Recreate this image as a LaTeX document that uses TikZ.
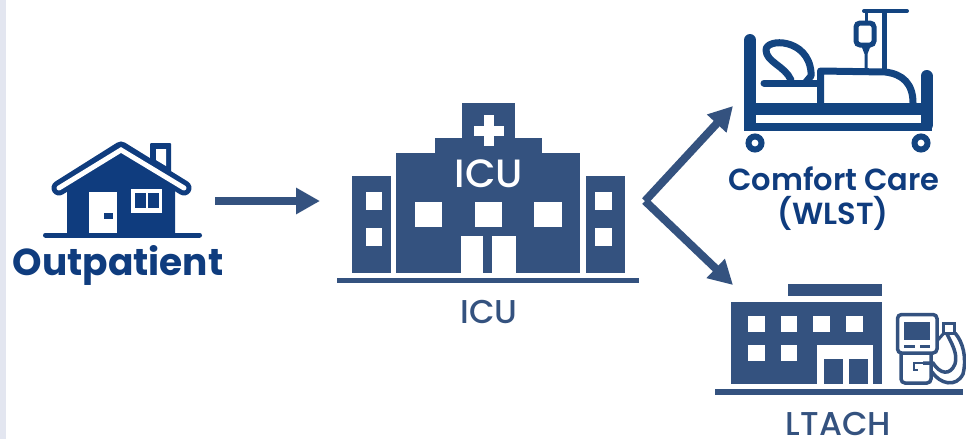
\documentclass[tikz,border=0pt]{standalone}
\usepackage{fontspec}
\usepackage{tikz}
\usetikzlibrary{arrows.meta}
\setmainfont{Poppins Medium}
\newfontfamily\headfont{Poppins}
\newfontfamily\semifont{Poppins SemiBold}
\definecolor{navy}{HTML}{0F3C7E}
\definecolor{bednavy}{HTML}{134480}
\definecolor{slate}{HTML}{34527F}
\definecolor{strip}{HTML}{E3E6F0}
\tikzset{
  iconbox/.style={inner sep=0pt,outer sep=0pt},
  flow/.style={slate,line width=8pt,-{Triangle[length=24pt,width=25pt]},shorten >=0pt},
  plainlabel/.style={slate,font=\fontsize{33}{33}\selectfont,inner sep=0pt},
  bedline/.style={bednavy,line width=7pt,line cap=round,line join=round}
}
\begin{document}
\begin{tikzpicture}[x=1pt,y=-1pt]

\useasboundingbox (0,0) rectangle (966,439);
\fill [white] (0,0) rectangle (966,439);
\fill [strip] (0,0) rectangle (6,439);

\node [iconbox,minimum width=170pt,minimum height=100pt] (home) at (130,201) {};
\node [iconbox,minimum width=325pt,minimum height=180pt] (hospital) at (482.5,201) {};
\node [iconbox,anchor=south west,minimum width=200pt,minimum height=100pt] (bed) at (733,106) {};
\node [iconbox,anchor=north west,minimum width=200pt,minimum height=100pt] (ltach) at (733,285) {};

\fill [navy] (67,190) -- (121,152) -- (175,190) -- (175,235) -- (67,235) -- cycle;
\draw [navy,line width=5pt,line cap=round] (45.5,235) -- (199.5,235);
\fill [navy,rounded corners=1pt] (150,143) rectangle (171,172);
\fill [white] (156,149) -- (166,149) -- (166,166) -- (156,160) -- cycle;
\draw [navy,line width=15pt,line cap=round,line join=round] (59,188) -- (121,149) -- (184,188);
\draw [white,line width=5pt,line cap=round,line join=miter] (59,188) -- (121,150) -- (184,188);
\fill [white] (89,192) rectangle (117,233);
\fill [navy] (104,213) rectangle (113,219);
\fill [white] (131,189) rectangle (162,213);
\fill [navy] (135,193) rectangle (146,208);
\fill [navy] (148,193) rectangle (159,208);
\node [inner sep=0pt,navy,font=\headfont\bfseries\fontsize{37.5}{37.5}\selectfont] (homelabel) at (118,265) {Outpatient};

\fill [slate] (462,103) rectangle (515,138);
\fill [slate] (435,138) rectangle (542,153);
\fill [slate] (396,153) rectangle (580,273);
\fill [slate] (352,176) rectangle (391,273);
\fill [slate] (586,176) rectangle (625,273);
\fill [slate] (337,278) rectangle (639,283);
\fill [white] (484,115) rectangle (494,146);
\fill [white] (474,126) rectangle (504,136);
\fill [white] (366,192) rectangle (382,210);
\fill [white] (366,228) rectangle (382,246);
\fill [white] (595,192) rectangle (612,210);
\fill [white] (595,228) rectangle (612,246);
\fill [white] (415,202) rectangle (442,227);
\fill [white] (475,202) rectangle (502,227);
\fill [white] (534,202) rectangle (562,227);
\fill [white] (461,236) rectangle (483,273);
\fill [white] (492,236) rectangle (516,273);
\node [inner sep=0pt,white,font=\fontsize{39.5}{39.5}\selectfont] (sign) at (489,174) {ICU};
\node [plainlabel] (hospitallabel) at (489,312) {ICU};

\draw [bedline,line width=12pt] (750,40) -- (750,125);
\draw [bedline,line width=12pt] (926.5,76) -- (926.5,125);
\fill [bednavy] (744,103) rectangle (932,115);
\fill [bednavy] (744,123) rectangle (932,131);
\draw [bednavy,line width=6pt] (755,143) circle (6.5pt);
\draw [bednavy,line width=6pt] (921,143) circle (6.5pt);
\draw [bedline] (791,80) .. controls (785,66) and (766,62) .. (766,50) .. controls (766,38) and (808,38) .. (811,72) -- (811,76) -- (806,82);
\draw [bedline,line cap=round] (764,83) -- (820,83);
\draw [bedline,line cap=butt] (820.5,103) -- (820.5,71) -- (885,72) .. controls (903,74) and (913,84) .. (913,103);
\draw [bednavy,line width=5pt] (884.5,72) -- (884.5,11);
\draw [bednavy,line width=4pt,line cap=round] (864,11) -- (907,11);
\draw [bednavy,line width=3pt] (866,11) -- (866,22);
\draw [bednavy,line width=5pt,rounded corners=4pt] (856,23) rectangle (874,45);
\fill [bednavy] (861,45) -- (871,45) -- (867.5,54) -- (867.5,71) -- (864.5,71) -- (864.5,54) -- cycle;
\node [inner sep=0pt,navy,font=\semifont\fontsize{30.5}{30.5}\selectfont] (bedlabel) at (834,179) {Comfort Care};
\node [inner sep=0pt,navy,font=\semifont\fontsize{30.5}{30.5}\selectfont] (bedlabelb) at (833,213) {(WLST)};

\fill [slate] (788,284) rectangle (882,296);
\fill [slate] (731,302) rectangle (882,384);
\fill [slate] (715,389) rectangle (963,395);
\fill [white] (748,316) rectangle (765,332);
\fill [white] (781,316) rectangle (797,332);
\fill [white] (813,316) rectangle (830,332);
\fill [white] (846,316) rectangle (863,332);
\fill [white] (748,345) rectangle (765,361);
\fill [white] (781,345) rectangle (797,361);
\fill [white] (817,345) rectangle (873,384);
\fill [slate] (824,359) rectangle (843,384);
\fill [slate] (849,359) rectangle (868,384);
\draw [slate,line width=3.5pt,rounded corners=4pt] (897.5,314.5) rectangle (937,353);
\fill [slate] (904,322) rectangle (930,340);
\fill [slate] (904,345) rectangle (915,348);
\fill [slate] (920,345) rectangle (930,348);
\draw [slate,line width=3.5pt,rounded corners=4pt] (901,353) -- (901,383) -- (931,383) -- (931,353);
\draw [slate,line width=2.5pt] (923,363) -- (914,363) -- (914,370) -- (918,370);
\draw [slate,line width=3.5pt] (923,363) -- (933,363) .. controls (940,374) and (950,376) .. (955,364) .. controls (958,354) and (952,344) .. (947,334);
\draw [slate,line width=3.5pt] (932,372) .. controls (940,384) and (956,388) .. (963,374) .. controls (967,358) and (963,342) .. (955,333);
\draw [slate,line width=3pt] (943,323) rectangle (954,333);
\draw [slate,line width=3pt] (937,341) -- (944,333);
\node [plainlabel] (ltachlabel) at (838.5,423.5) {LTACH};

\draw [flow] (home.east) -- (hospital.west);
\draw [flow] (hospital.east) -- (bed.south west);
\draw [flow] (hospital.east) -- (ltach.north west);

\end{tikzpicture}
\end{document}
